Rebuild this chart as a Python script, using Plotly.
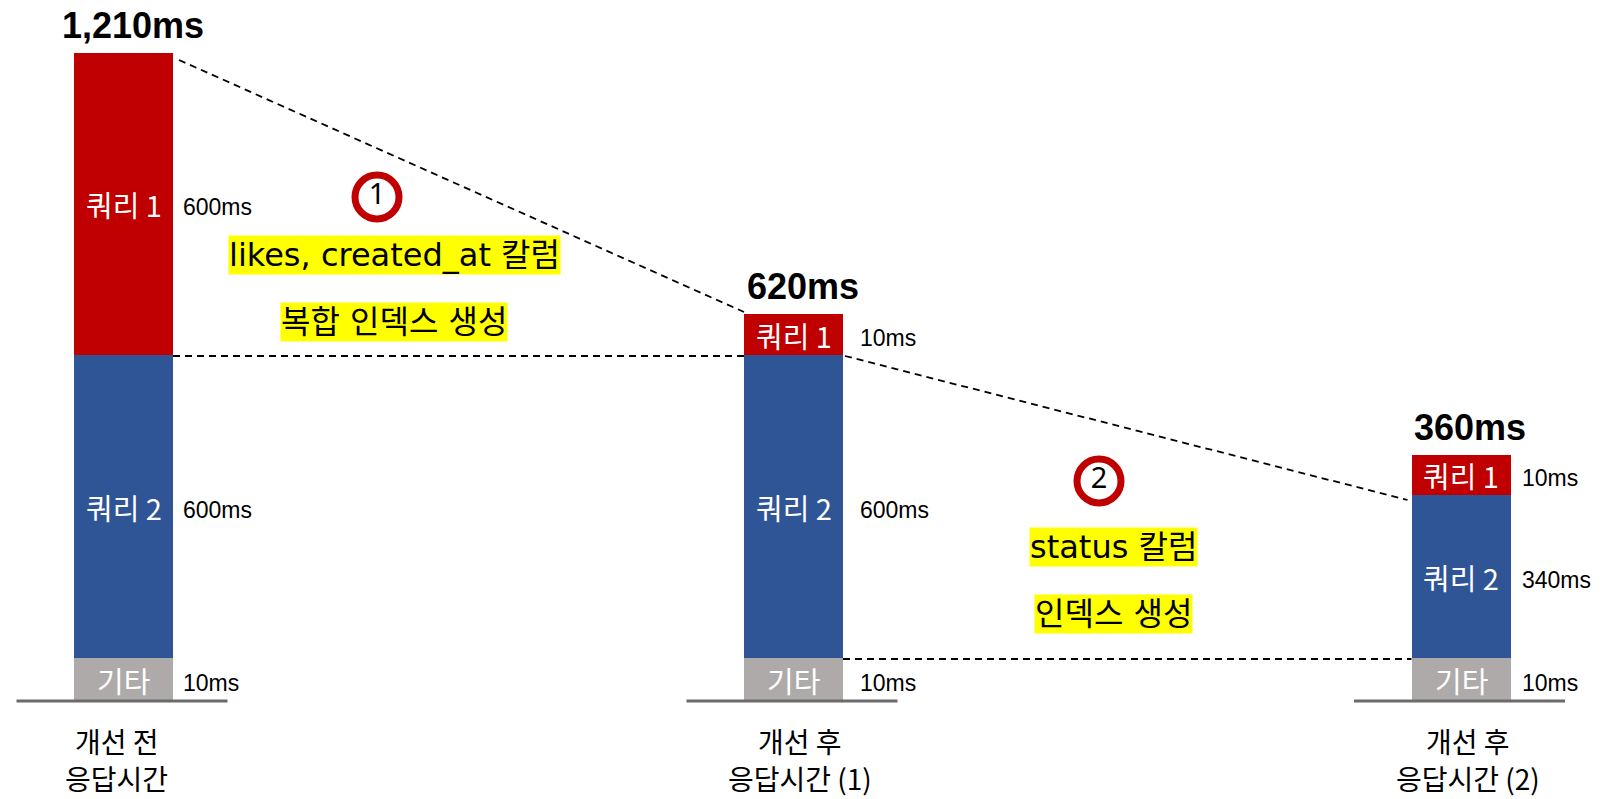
import plotly.graph_objects as go

# ---------------- data ----------------
categories = [["개선 전", "응답시간"], ["개선 후", "응답시간 (1)"], ["개선 후", "응답시간 (2)"]]
totals = ["1,210ms", "620ms", "360ms"]
segment_names = ["기타", "쿼리 2", "쿼리 1"]
etc_ms = [10, 10, 10]
query2_ms = [600, 600, 340]
query1_ms = [600, 10, 10]
# segment lengths as drawn in the picture (the picture is not to scale)
etc_drawn = [43, 43, 43]
query2_drawn = [303, 303, 163]
query1_drawn = [302, 41, 40]
notes = [["likes, created_at 칼럼", "복합 인덱스 생성"], ["status 칼럼", "인덱스 생성"]]
note_marks = ["1", "2"]

# ---------------- layout constants ----------------
W, H = 1619, 799
BASE_PX = 701
centers = [123.5, 793.5, 1461]
bar_w = 99
val_off = [8, 15, 9]
cat_off = [-7, 6, 7]
colors = ["#AEAAAA", "#2F5597", "#C00000"]


def py(p):
    """pixel row -> data value"""
    return BASE_PX - p


fig = go.Figure()

seg_ms = [etc_ms, query2_ms, query1_ms]
seg_drawn = [etc_drawn, query2_drawn, query1_drawn]
for name, h, c in zip(segment_names, seg_drawn, colors):
    fig.add_trace(go.Bar(x=centers, y=h, width=bar_w, marker=dict(color=c, line=dict(width=0)),
                         name=name, showlegend=False, hoverinfo="skip"))

ann = []
KFONT = "Noto Sans CJK KR"
AFONT = "Liberation Sans, Arial"
for i, cx in enumerate(centers):
    base = 0
    for s, (name, h, ms) in enumerate(zip(segment_names, seg_drawn, seg_ms)):
        mid = base + h[i] / 2
        ann.append(dict(x=cx, y=mid, text=name, showarrow=False, xanchor="center", yanchor="middle",
                        font=dict(family=KFONT, size=29, color="white")))
        ann.append(dict(x=cx + bar_w / 2 + val_off[i], y=mid - 3, text=f"{ms[i]}ms", showarrow=False,
                        xanchor="left", yanchor="middle",
                        font=dict(family=AFONT, size=23, color="black")))
        base += h[i]
    ann.append(dict(x=cx + 9, y=base + 28, text=f"<b>{totals[i]}</b>", showarrow=False,
                    xanchor="center", yanchor="middle",
                    font=dict(family=AFONT, size=36, color="black")))
    for line_txt, ypx in zip(categories[i], [741, 778]):
        ann.append(dict(x=cx + cat_off[i], y=py(ypx), text=line_txt, showarrow=False,
                        xanchor="center", yanchor="middle",
                        font=dict(family=KFONT, size=28, color="black")))
    # baseline
    fig.add_shape(type="line", x0=cx - 107, x1=cx + 104, y0=py(701), y1=py(701),
                  line=dict(color="#6B6B6B", width=3))

# dashed connectors derived from bar stacks
tops = [etc_drawn[i] + query2_drawn[i] + query1_drawn[i] for i in range(3)]
mids = [etc_drawn[i] + query2_drawn[i] for i in range(3)]
dash = dict(color="black", width=1.8, dash="7px,5px")
right = [c + bar_w / 2 for c in centers]
left = [c - bar_w / 2 for c in centers]
segs = [
    (right[0] + 6, tops[0] - 7, left[1], tops[1] + 2),
    (right[0], mids[0] - 1, left[1], mids[1] - 1),
    (right[1] + 2, mids[1] - 1, left[2] - 4, mids[2] - 5),
    (right[1], etc_drawn[1] - 1, left[2], etc_drawn[2] - 1),
]
for x0, y0, x1, y1 in segs:
    fig.add_trace(go.Scatter(x=[x0, x1], y=[y0, y1], mode="lines", line=dash,
                             showlegend=False, hoverinfo="skip"))

# circled numbers
circle_pos = [(377, 197), (1099, 481)]
fig.add_trace(go.Scatter(x=[p[0] for p in circle_pos], y=[py(p[1]) for p in circle_pos],
                         mode="markers+text", text=note_marks, textposition="middle center",
                         textfont=dict(family="Noto Sans", size=29, color="black"),
                         marker=dict(size=44, color="white", line=dict(color="#C00000", width=7)),
                         showlegend=False, hoverinfo="skip"))

# yellow highlighted notes (one annotation per line)
note_pos = [[(394, 255), (394, 322)], [(1113, 547), (1113, 614)]]
for lines, poss in zip(notes, note_pos):
    for t, (x, y) in zip(lines, poss):
        ann.append(dict(x=x, y=py(y), text=t, showarrow=False, xanchor="center", yanchor="middle",
                        bgcolor="#FFFF00", borderpad=0,
                        font=dict(family="DejaVu Sans, Noto Sans CJK KR", size=32, color="black")))

fig.update_layout(
    width=W, height=H, margin=dict(l=0, r=0, t=0, b=0),
    paper_bgcolor="white", plot_bgcolor="white", barmode="stack", bargap=0,
    xaxis=dict(range=[0, W], visible=False, fixedrange=True),
    yaxis=dict(range=[py(H), py(0)], visible=False, fixedrange=True),
    annotations=ann, showlegend=False,
)

fig.write_html("out.html", config={"displayModeBar": False},
               post_script="document.body.style.margin='0';document.body.style.overflow='hidden';")
